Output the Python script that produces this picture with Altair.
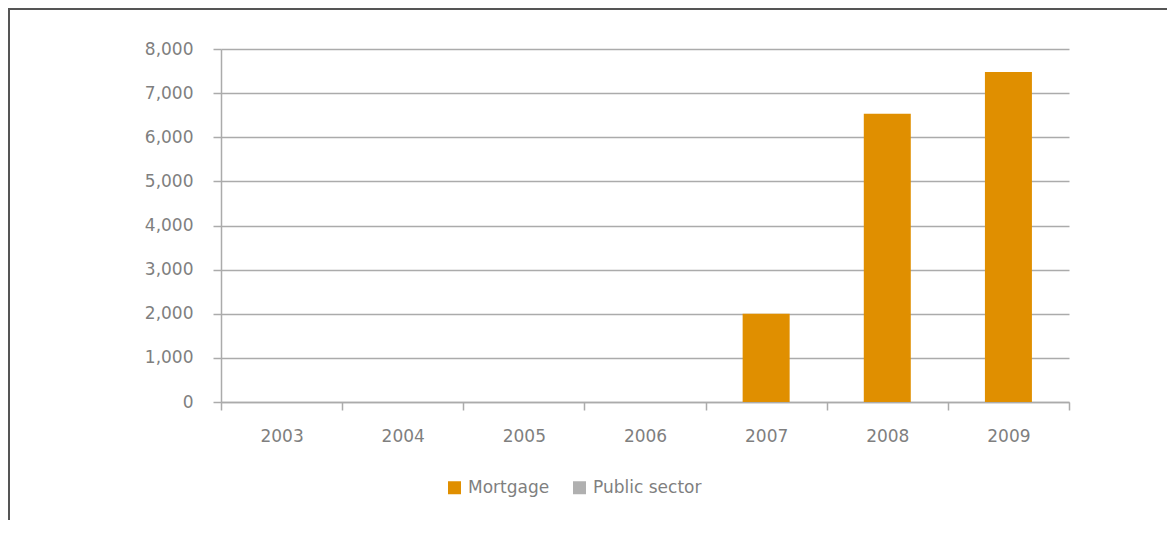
import altair as alt
import pandas as pd

years = ["2003", "2004", "2005", "2006", "2007", "2008", "2009"]
mortgage = [0, 0, 0, 0, 2000, 6530, 7480]
public_sector = [0, 0, 0, 0, 0, 0, 0]
series_names = ["Mortgage", "Public sector"]
series_colors = ["#E08F00", "#B0B0B0"]
y_ticks = [0, 1000, 2000, 3000, 4000, 5000, 6000, 7000, 8000]

rows = []
for i, yr in enumerate(years):
    rows.append({"year": yr, "series": series_names[0], "value": mortgage[i]})
    rows.append({"year": yr, "series": series_names[1], "value": public_sector[i]})
df = pd.DataFrame(rows)

FONT = "DejaVu Sans"
GREY_TXT = "#7f7f7f"
GRID = "#ababab"

W, H = 848, 353
PL, PT = 213, 41

bars = alt.Chart(df).mark_bar(size=47).encode(
    x=alt.X("year:N", sort=years, title=None,
            scale=alt.Scale(paddingInner=0, paddingOuter=0),
            axis=alt.Axis(labelAngle=0, tickBand="extent", grid=False,
                          domainColor=GRID, domainWidth=1.5,
                          tickColor=GRID, tickWidth=1.5, tickSize=8,
                          labelPadding=18, labelFontSize=17,
                          labelColor=GREY_TXT, labelFont=FONT)),
    y=alt.Y("value:Q", stack="zero", title=None,
            scale=alt.Scale(domain=[0, 8000]),
            axis=alt.Axis(values=y_ticks, format=",d", grid=True,
                          gridColor=GRID, gridWidth=1.5,
                          domainColor=GRID, domainWidth=1.5,
                          tickColor=GRID, tickWidth=1.5, tickSize=8,
                          labelPadding=20, labelFontSize=17,
                          labelColor=GREY_TXT, labelFont=FONT)),
    color=alt.Color("series:N", sort=series_names,
                    scale=alt.Scale(domain=series_names, range=series_colors),
                    legend=alt.Legend(title=None, orient="none",
                                      direction="horizontal",
                                      legendX=225, legendY=430,
                                      symbolType="square", symbolSize=169,
                                      symbolStrokeWidth=0,
                                      labelFontSize=17, labelFont=FONT,
                                      labelColor=GREY_TXT, labelOffset=5,
                                      columnPadding=21)),
    order=alt.Order("series:N"),
)

frame_df = pd.DataFrame({"k": [0]})
frame_left = alt.Chart(frame_df).mark_rule(color="#555555", strokeWidth=2).encode(
    x=alt.value(-PL + 1), y=alt.value(-PT), y2=alt.value(H + 200))
frame_top = alt.Chart(frame_df).mark_rule(color="#555555", strokeWidth=2).encode(
    x=alt.value(-PL), x2=alt.value(W + 200), y=alt.value(-PT + 1))

chart = alt.layer(bars, frame_left, frame_top).properties(
    width=W, height=H,
    autosize=alt.AutoSizeParams(type="none"),
    padding={"left": PL, "top": PT, "right": 98, "bottom": 118},
).configure(font=FONT).configure_view(stroke="transparent", strokeWidth=0)

chart.save("out.html", embed_options={"renderer": "svg", "actions": False})
